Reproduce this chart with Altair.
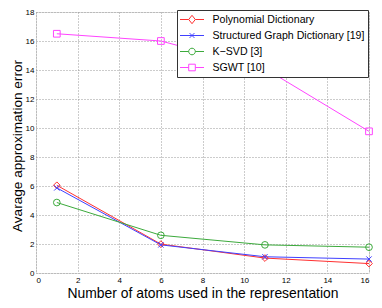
import altair as alt
import pandas as pd

atoms = [1, 6, 11, 16]
series_names = ["Polynomial Dictionary", "Structured Graph Dictionary [19]", "K\u2212SVD [3]", "SGWT [10]"]
poly = [6.05, 1.99, 1.03, 0.65]
struct = [5.87, 1.94, 1.12, 0.96]
ksvd = [4.86, 2.6, 1.94, 1.78]
sgwt = [16.5, 16.0, 14.1, 9.77]
colors = ["#ff3030", "#4040ff", "#3caa3c", "#ff44ff"]
x_ticks = list(range(0, 17, 2))
y_ticks = list(range(0, 19, 2))

rows = []
for name, vals in zip(series_names, [poly, struct, ksvd, sgwt]):
    for a, v in zip(atoms, vals):
        rows.append({"atoms": a, "err": v, "series": name})
df = pd.DataFrame(rows)

font = "Liberation Sans"
order = series_names

common_axis = dict(grid=True, gridDash=[1, 2], gridColor="#999", labelFontSize=8,
                   titleFont=font, labelFont=font, tickSize=0,
                   domain=False, labelColor="#000", labelOverlap=False,
                   titleColor="#000", titleFontWeight="normal")

x_enc = alt.X("atoms:Q", scale=alt.Scale(domain=[0, 16], nice=False),
              axis=alt.Axis(values=x_ticks, title="Number of atoms used in the representation",
                            labelPadding=3, titlePadding=2, titleFontSize=13.9, **common_axis))
y_enc = alt.Y("err:Q", scale=alt.Scale(domain=[0, 18], nice=False),
              axis=alt.Axis(values=y_ticks, title="Avarage approximation error",
                            labelPadding=2, titlePadding=1, titleFontSize=13.6, titleY=133.5,
                            **common_axis))

color_scale = alt.Scale(domain=order, range=colors)

base = alt.Chart(df)

lines = base.mark_line(strokeWidth=1).encode(
    color=alt.Color("series:N", scale=color_scale, legend=None),
    detail="series:N",
)

marker_shapes = ["diamond", "M-0.8,-0.8L0.8,0.8M-0.8,0.8L0.8,-0.8", "circle", "square"]
points = base.mark_point(filled=False, strokeWidth=1, size=45, opacity=1).encode(
    color=alt.Color("series:N", scale=color_scale, legend=None),
    shape=alt.Shape("series:N", scale=alt.Scale(domain=order, range=marker_shapes), legend=None),
)

r = 0.55
d = 0.7
c = 0.4
legend_paths = [
    f"M-2,0L-{r},0M{r},0L2,0M0,-{d}L{r},0L0,{d}L-{r},0Z",
    f"M-2,0L2,0M-{c},-{c}L{c},{c}M-{c},{c}L{c},-{c}",
    f"M-2,0L-{r},0M{r},0L2,0M-{r},0A{r},{r},0,1,0,{r},0A{r},{r},0,1,0,-{r},0Z",
    f"M-2,0L-{r},0M{r},0L2,0M-{r},-{r}L{r},-{r}L{r},{r}L-{r},{r}Z",
]
legend_kw = dict(title=None, orient="none", legendX=141, legendY=-2)
carrier = base.transform_filter("false").mark_point(filled=False, strokeWidth=1).encode(
    color=alt.Color("series:N", scale=color_scale,
                    legend=alt.Legend(labelFont=font, labelFontSize=10.6, labelColor="#000",
                                      symbolSize=144, symbolStrokeWidth=1, symbolOpacity=1,
                                      strokeColor="#333", fillColor="#fff", padding=3,
                                      rowPadding=3, symbolOffset=5.5, labelOffset=14,
                                      symbolFillColor="transparent", labelLimit=300,
                                      **legend_kw)),
    shape=alt.Shape("series:N", scale=alt.Scale(domain=order, range=legend_paths),
                    legend=alt.Legend(**legend_kw)),
)

chart = alt.layer(lines, points, carrier).encode(
    x=x_enc, y=y_enc
).resolve_scale(
    color="independent", shape="independent"
).properties(
    width=333, height=261,
    autosize=alt.AutoSizeParams(type="none"),
    padding={"left": 28, "top": 4, "right": 5, "bottom": 28},
).configure_view(stroke="#444", strokeWidth=1).configure(background="white")

chart.save("out.html", embed_options={"renderer": "svg", "actions": False})
